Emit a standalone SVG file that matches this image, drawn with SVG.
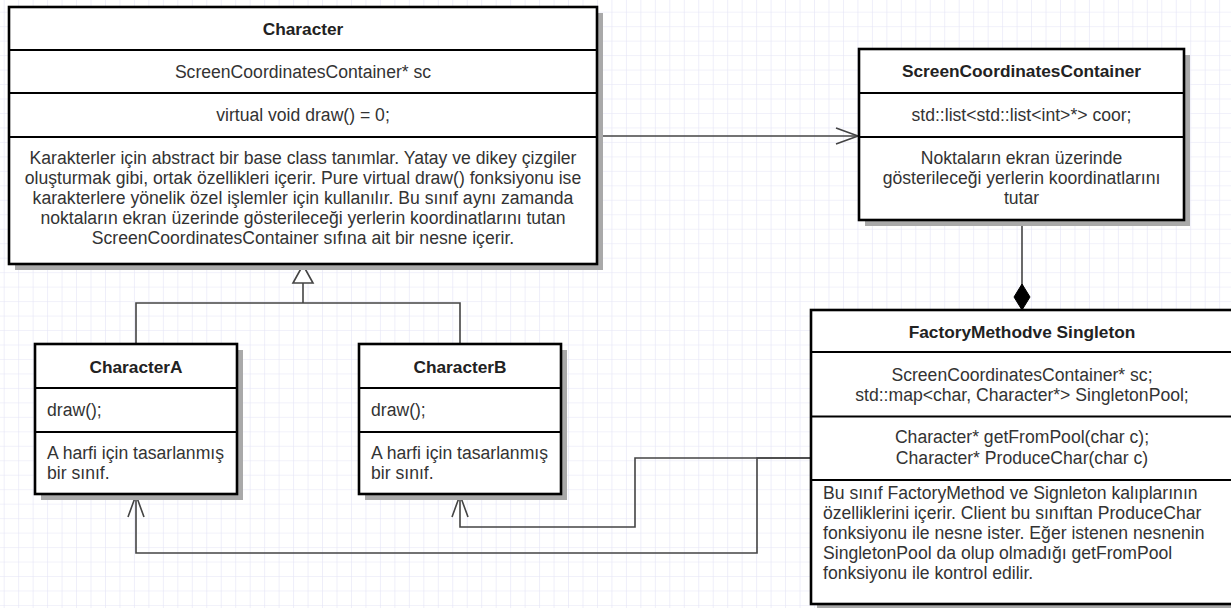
<svg xmlns="http://www.w3.org/2000/svg" width="1231" height="608" viewBox="0 0 1231 608">
<defs>
<pattern id="grid" patternUnits="userSpaceOnUse" x="3.7" y="11.7" width="14.47" height="14.47">
<path d="M0,0 H14.47 M0,0 V14.47" fill="none" stroke="#e4e4f6" stroke-width="1.2"/>
</pattern>
<marker id="open" markerUnits="userSpaceOnUse" markerWidth="24" markerHeight="18" refX="22" refY="8" orient="auto" overflow="visible">
<path d="M0,0 L22,8 L0,16" fill="none" stroke="#444" stroke-width="1.6"/>
</marker>
<marker id="tri" markerUnits="userSpaceOnUse" markerWidth="20" markerHeight="22" refX="18" refY="10" orient="auto" overflow="visible">
<path d="M0,0 L18,10 L0,20 Z" fill="#fff" stroke="#444" stroke-width="1.6"/>
</marker>
<marker id="dia" markerUnits="userSpaceOnUse" markerWidth="28" markerHeight="18" refX="26" refY="8" orient="auto" overflow="visible">
<path d="M0,8 L13,0 L26,8 L13,16 Z" fill="#000" stroke="#000" stroke-width="1"/>
</marker>
</defs>
<style>
.shadow{fill:#a9a9a9}
.box{fill:#fff;stroke:#000;stroke-width:2.6}
.div{stroke:#000;stroke-width:2.2}
.t{font-family:"Liberation Sans",Arial,sans-serif;font-size:17.6px;fill:#333}
.b{font-weight:bold;font-size:17.3px;fill:#222}
.c{text-anchor:middle}
.conn{fill:none;stroke:#444;stroke-width:1.6}
</style>
<rect width="1231" height="608" fill="#fff"/>
<rect width="1231" height="608" fill="url(#grid)"/>

<g id="connectors">
<path class="conn" d="M597,136 H858" marker-end="url(#open)"/>
<path class="conn" d="M1022,220 V310" marker-end="url(#dia)"/>
<path class="conn" d="M303,303 V265" marker-end="url(#tri)"/>
<path class="conn" d="M136,344 V303 H460 V344"/>
<path class="conn" d="M811,458 H635 V527 H460 V495" marker-end="url(#open)"/>
<path class="conn" d="M811,458 H757 V553 H136 V495" marker-end="url(#open)"/>
</g>

<g id="Character">
<rect class="shadow" x="15" y="13" width="588" height="257"/>
<rect class="box" x="9" y="7" width="588" height="257"/>
<path class="div" d="M9,50 H597 M9,93 H597 M9,137 H597"/>
<text class="t b c" x="303" y="34.5">Character</text>
<text class="t c" x="303" y="77.5">ScreenCoordinatesContainer* sc</text>
<text class="t c" x="303" y="121">virtual void draw() = 0;</text>
<text class="t c" x="303" y="164">Karakterler için abstract bir base class tanımlar. Yatay ve dikey çizgiler</text>
<text class="t c" x="303" y="184">oluşturmak gibi, ortak özellikleri içerir. Pure virtual draw() fonksiyonu ise</text>
<text class="t c" x="303" y="204">karakterlere yönelik özel işlemler için kullanılır. Bu sınıf aynı zamanda</text>
<text class="t c" x="303" y="224">noktaların ekran üzerinde gösterileceği yerlerin koordinatlarını tutan</text>
<text class="t c" x="303" y="244">ScreenCoordinatesContainer sıfına ait bir nesne içerir.</text>
</g>

<g id="ScreenCoordinatesContainer">
<rect class="shadow" x="865" y="55" width="325" height="171"/>
<rect class="box" x="859" y="49" width="325" height="171"/>
<path class="div" d="M859,93 H1184 M859,137 H1184"/>
<text class="t b c" x="1021.5" y="77">ScreenCoordinatesContainer</text>
<text class="t c" x="1021.5" y="121">std::list&lt;std::list&lt;int&gt;*&gt; coor;</text>
<text class="t c" x="1021.5" y="164">Noktaların ekran üzerinde</text>
<text class="t c" x="1021.5" y="184">gösterileceği yerlerin koordinatlarını</text>
<text class="t c" x="1021.5" y="204">tutar</text>
</g>

<g id="FactoryMethodveSingleton">
<rect class="shadow" x="817" y="316" width="422" height="294"/>
<rect class="box" x="811" y="310" width="422" height="294"/>
<path class="div" d="M811,352 H1233 M811,416.5 H1233 M811,480 H1233"/>
<text class="t b c" x="1022" y="338">FactoryMethodve Singleton</text>
<text class="t c" x="1022" y="381">ScreenCoordinatesContainer* sc;</text>
<text class="t c" x="1022" y="401">std::map&lt;char, Character*&gt; SingletonPool;</text>
<text class="t c" x="1022" y="443">Character* getFromPool(char c);</text>
<text class="t c" x="1022" y="464">Character* ProduceChar(char c)</text>
<text class="t" x="823" y="499">Bu sınıf FactoryMethod ve Signleton kalıplarının</text>
<text class="t" x="823" y="519">özelliklerini içerir. Client bu sınıftan ProduceChar</text>
<text class="t" x="823" y="539">fonksiyonu ile nesne ister. Eğer istenen nesnenin</text>
<text class="t" x="823" y="559">SingletonPool da olup olmadığı getFromPool</text>
<text class="t" x="823" y="579">fonksiyonu ile kontrol edilir.</text>
</g>

<g id="CharacterA">
<rect class="shadow" x="41" y="350" width="202" height="150"/>
<rect class="box" x="35" y="344" width="202" height="150"/>
<path class="div" d="M35,388 H237 M35,432 H237"/>
<text class="t b c" x="136" y="373">CharacterA</text>
<text class="t" x="47" y="416">draw();</text>
<text class="t" x="47" y="459">A harfi için tasarlanmış</text>
<text class="t" x="47" y="479">bir sınıf.</text>
</g>

<g id="CharacterB">
<rect class="shadow" x="365" y="350" width="202" height="150"/>
<rect class="box" x="359" y="344" width="202" height="150"/>
<path class="div" d="M359,388 H561 M359,432 H561"/>
<text class="t b c" x="460" y="373">CharacterB</text>
<text class="t" x="371" y="416">draw();</text>
<text class="t" x="371" y="459">A harfi için tasarlanmış</text>
<text class="t" x="371" y="479">bir sınıf.</text>
</g>
</svg>
